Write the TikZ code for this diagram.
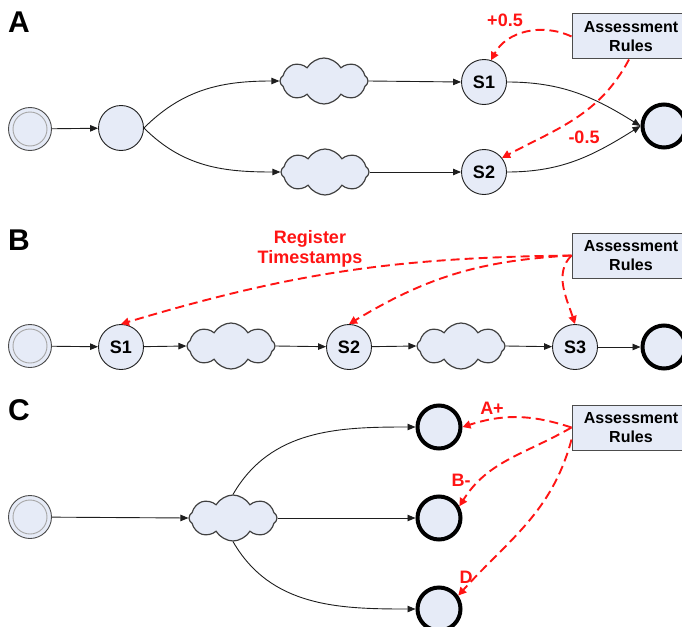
\documentclass[tikz,border=0pt]{standalone}
\usepackage{fontspec}
\setmainfont{Liberation Sans}
\usetikzlibrary{shapes.symbols,arrows.meta}
\definecolor{nodefill}{RGB}{230,235,247}
\definecolor{rred}{RGB}{255,20,20}
\definecolor{lineg}{RGB}{30,30,30}
\tikzset{
  state/.style={circle, draw=lineg, fill=nodefill, line width=0.9pt, minimum size=45pt, inner sep=0pt, font=\bfseries\fontsize{18}{18}\selectfont},
  startst/.style={circle, draw=black!70, fill=nodefill, line width=0.9pt, minimum size=43pt, inner sep=0pt},
  endst/.style={circle, draw=black, fill=nodefill, line width=4pt, minimum size=43pt, inner sep=0pt},
  cloudst/.style={cloud, cloud puffs=8, cloud puff arc=120, aspect=1.9, draw=black!75, fill=nodefill, line width=1.2pt, minimum width=88pt, minimum height=46pt, inner sep=0pt},
  rulebox/.style={rectangle, draw=black!70, fill=nodefill, line width=1pt, minimum width=118pt, minimum height=45pt, align=center, font=\bfseries\fontsize{16}{19}\selectfont},
  arr/.style={-{Triangle[length=8pt,width=6.5pt]}, line width=0.9pt, draw=lineg},
  rarr/.style={-{Triangle[length=8pt,width=8pt]}, line width=1.9pt, draw=rred, dash pattern=on 9pt off 5pt},
  rlab/.style={text=rred, font=\bfseries\fontsize{18}{20}\selectfont, align=center},
  panel/.style={font=\bfseries\fontsize{30}{30}\selectfont},
}
\begin{document}
\begin{tikzpicture}[x=1pt,y=1pt]
\useasboundingbox (0,0) rectangle (682,-626);

% ---------------- Panel A
\node[panel] (pA) at (19,-22) {A};
\node[startst] (a0) at (30,-129) {};
\draw[gray!70, line width=0.9pt] (a0.center) circle (17pt);
\node[state] (a1) at (121,-128) {};
\node[cloudst] (acT) at (324,-81) {};
\node[cloudst] (acB) at (325,-172) {};
\node[state] (aS1) at (484,-82) {S1};
\node[state] (aS2) at (484,-172) {S2};
\node[endst] (aE) at (664,-126) {};
\node[rulebox] (rA) at (631,-36.5) {Assessment\\Rules};

\draw[arr] (a0) -- (a1);
\draw[arr] (a1.east) to[out=45,in=180] (acT.west);
\draw[arr] (a1.east) to[out=-45,in=180] (acB.west);
\draw[arr] (acT.east) -- (aS1.west);
\draw[arr] (acB.east) -- (aS2.west);
\draw[arr] (aS1.east) to[out=0,in=148] (aE.west);
\draw[arr] (aS2.east) to[out=0,in=-148] (aE.west);

\draw[rarr] (rA.west) to[out=155,in=62] (aS1.72);
\draw[rarr] ([xshift=-2pt]rA.south) to[out=-118,in=28] (aS2.38);
\node[rlab] (lA1) at (505,-20) {+0.5};
\node[rlab] (lA2) at (584,-137) {-0.5};

% ---------------- Panel B
\node[panel] (pB) at (19,-240) {B};
\node[startst] (b0) at (30,-346) {};
\draw[gray!70, line width=0.9pt] (b0.center) circle (17pt);
\node[state] (bS1) at (121,-347) {S1};
\node[cloudst] (bc1) at (231,-346) {};
\node[state] (bS2) at (349,-347) {S2};
\node[cloudst] (bc2) at (461,-346) {};
\node[state] (bS3) at (575,-347) {S3};
\node[endst] (bE) at (664,-347) {};
\node[rulebox] (rB) at (631,-255.5) {Assessment\\Rules};

\draw[arr] (b0) -- (bS1);
\draw[arr] (bS1) -- (bc1.west);
\draw[arr] (bc1.east) -- (bS2);
\draw[arr] (bS2) -- (bc2.west);
\draw[arr] (bc2.east) -- (bS3);
\draw[arr] (bS3) -- (bE);

\draw[rarr] (rB.west) to[bend right=8] (bS1.north);
\draw[rarr] (rB.west) to[bend right=14] (bS2.north);
\draw[rarr] (rB.west) .. controls +(-18,-18) and +(-8,25) .. (bS3.north);
\node[rlab] (lB) at (310,-249) {Register\\Timestamps};

% ---------------- Panel C
\node[panel] (pC) at (19,-410) {C};
\node[startst] (c0) at (30,-517) {};
\draw[gray!70, line width=0.9pt] (c0.center) circle (17pt);
\node[cloudst] (cc) at (233,-518) {};
\node[endst] (cT) at (439,-427) {};
\node[endst] (cM) at (439,-518) {};
\node[endst] (cB) at (439,-609) {};
\node[rulebox] (rC) at (631,-427.5) {Assessment\\Rules};

\draw[arr] (c0) -- (cc.west);
\draw[arr] (cc.north) to[out=60,in=180] (cT.west);
\draw[arr] (cc.east) -- (cM.west);
\draw[arr] (cc.south) to[out=-60,in=180] (cB.west);

\draw[rarr] (rC.west) to[bend right=18] (cT.east);
\draw[rarr] (rC.west) to[out=210,in=58] (cM.30);
\draw[rarr] ([yshift=-12pt]rC.west) to[out=255,in=48] (cB.35);
\node[rlab] (lC1) at (492,-408) {A+};
\node[rlab] (lC2) at (461,-480) {B-};
\node[rlab] (lC3) at (466,-577) {D};
\end{tikzpicture}
\end{document}
